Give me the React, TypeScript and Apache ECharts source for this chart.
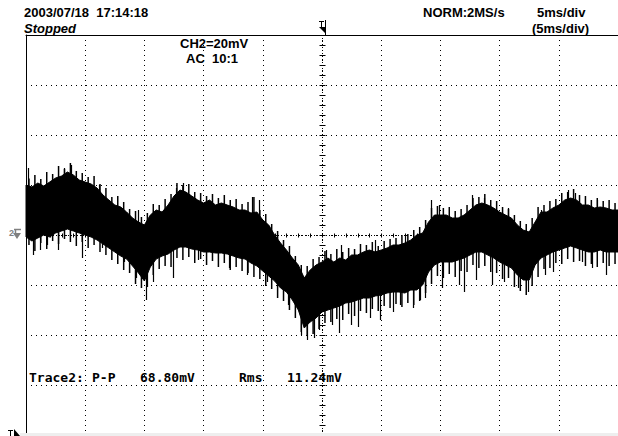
import React, { useEffect, useRef } from "react";
import * as echarts from "echarts";

// Time base (ms, trigger at 0) of the envelope samples
const ENV_TIME = [
  -25, -24.5, -24, -23.5, -23, -22.5, -22, -21.5, -21, -20.5,
  -20, -19.5, -19, -18.5, -18, -17.5, -17, -16.5, -16, -15.5,
  -15, -14.5, -14, -13.5, -13, -12.5, -12, -11.5, -11, -10.5,
  -10, -9.5, -9, -8.5, -8, -7.5, -7, -6.5, -6, -5.5,
  -5, -4.5, -4, -3.5, -3, -2.5, -2, -1.5, -1, -0.5,
  0, 0.5, 1, 1.5, 2, 2.5, 3, 3.5, 4, 4.5,
  5, 5.5, 6, 6.5, 7, 7.5, 8, 8.5, 9, 9.5,
  10, 10.5, 11, 11.5, 12, 12.5, 13, 13.5, 14, 14.5,
  15, 15.5, 16, 16.5, 17, 17.5, 18, 18.5, 19, 19.5,
  20, 20.5, 21, 21.5, 22, 22.5, 23, 23.5, 24, 24.5, 25,
];

// Upper edge of the dense noise band (mV)
const ENV_UPPER = [
  20.0, 19.2, 20.8, 19.6, 21.2, 22.8, 23.6, 25.2, 24.0, 22.0,
  21.2, 20.4, 18.8, 16.0, 14.0, 12.0, 11.2, 9.2, 6.8, 5.2,
  4.0, 8.0, 10.0, 9.2, 12.0, 15.6, 18.0, 17.2, 15.6, 14.0,
  12.8, 14.0, 12.0, 12.8, 12.0, 11.2, 10.0, 10.0, 8.8, 9.2,
  6.0, 4.0, 0.0, -3.2, -6.0, -9.2, -12.0, -17.2, -14.0, -12.0,
  -10.8, -9.2, -10.8, -9.2, -10.0, -8.0, -8.0, -6.8, -6.0, -6.8,
  -6.0, -5.2, -4.0, -4.0, -3.2, -2.0, 0.0, 0.8, 5.2, 8.0,
  8.0, 8.0, 6.8, 6.8, 8.0, 10.0, 12.0, 12.8, 12.0, 10.8,
  9.2, 8.0, 6.8, 4.0, 2.0, 1.2, 5.2, 9.2, 9.2, 10.8,
  12.0, 14.0, 14.8, 14.0, 12.0, 12.0, 10.8, 11.2, 10.8, 10.0, 10.0,
];

// Lower edge of the dense noise band (mV)
const ENV_LOWER = [
  -0.8, -2.4, -1.2, 0.0, -0.8, 0.8, 1.6, 2.4, 1.6, 0.8,
  0.0, -0.8, -2.0, -3.6, -5.2, -6.8, -8.4, -9.6, -12.4, -15.2,
  -18.4, -12.8, -9.6, -8.4, -7.6, -6.0, -4.8, -4.8, -5.6, -6.0,
  -6.8, -6.8, -7.2, -7.2, -7.6, -8.4, -9.2, -9.6, -11.2, -12.4,
  -14.4, -16.4, -18.4, -21.2, -22.8, -26.0, -30.0, -37.2, -34.8, -33.2,
  -30.8, -30.0, -29.2, -28.4, -27.2, -26.8, -26.0, -25.2, -25.2, -24.4,
  -24.0, -23.2, -22.8, -22.8, -23.2, -22.0, -22.0, -20.0, -14.8, -12.0,
  -10.8, -10.8, -10.8, -10.0, -9.2, -8.0, -6.8, -6.8, -8.0, -9.2,
  -10.8, -12.0, -13.2, -16.0, -18.0, -18.0, -12.0, -9.2, -8.0, -6.8,
  -6.0, -5.2, -4.4, -5.2, -6.0, -6.8, -6.8, -6.0, -6.8, -6.8, -6.8,
];

// Fine noise "hairs" between envelope samples: time, top tip, bottom tip (mV)
const HAIR_TIME = [
  -24.75, -24.25, -23.75, -23.25, -22.75, -22.25, -21.75, -21.25, -20.75, -20.25,
  -19.75, -19.25, -18.75, -18.25, -17.75, -17.25, -16.75, -16.25, -15.75, -15.25,
  -14.75, -14.25, -13.75, -13.25, -12.75, -12.25, -11.75, -11.25, -10.75, -10.25,
  -9.75, -9.25, -8.75, -8.25, -7.75, -7.25, -6.75, -6.25, -5.75, -5.25,
  -4.75, -4.25, -3.75, -3.25, -2.75, -2.25, -1.75, -1.25, -0.75, -0.25,
  0.25, 0.75, 1.25, 1.75, 2.25, 2.75, 3.25, 3.75, 4.25, 4.75,
  5.25, 5.75, 6.25, 6.75, 7.25, 7.75, 8.25, 8.75, 9.25, 9.75,
  10.25, 10.75, 11.25, 11.75, 12.25, 12.75, 13.25, 13.75, 14.25, 14.75,
  15.25, 15.75, 16.25, 16.75, 17.25, 17.75, 18.25, 18.75, 19.25, 19.75,
  20.25, 20.75, 21.25, 21.75, 22.25, 22.75, 23.25, 23.75, 24.25, 24.75,
];
const HAIR_TOP = [
  22.6, 24.0, 22.4, 25.2, 24.4, 27.6, 26.4, 28.8, 25.6, 24.8,
  23.2, 23.6, 20.4, 18.8, 15.2, 15.6, 13.2, 10.4, 9.6, 7.2,
  8.8, 12.4, 12.0, 14.4, 16.4, 20.8, 20.0, 20.4, 17.2, 16.8,
  15.6, 16.4, 14.8, 16.0, 14.0, 14.4, 12.4, 13.2, 15.2, 10.0,
  8.4, 4.4, 1.6, -2.0, -4.4, -8.4, -12.0, -12.4, -9.6, -8.8,
  -6.4, -7.6, -5.6, -6.8, -5.2, -5.6, -3.6, -4.0, -2.8, -4.4,
  -2.4, -1.6, -1.2, 0.0, 0.4, 2.0, 3.2, 6.0, 10.8, 11.6,
  10.8, 11.2, 9.6, 10.4, 12.0, 14.8, 15.2, 16.4, 14.0, 13.6,
  11.2, 10.4, 8.0, 5.6, 4.4, 6.8, 11.2, 12.0, 13.6, 14.4,
  16.8, 17.2, 18.4, 16.0, 15.6, 14.0, 14.8, 13.6, 14.0, 12.8,
];
const HAIR_BOTTOM = [
  -4.0, -6.4, -3.2, -5.6, -2.4, -3.6, -1.6, -2.8, -4.4, -2.8,
  -5.2, -4.0, -6.8, -8.0, -10.0, -11.6, -14.0, -15.2, -19.6, -21.2,
  -20.8, -16.0, -13.6, -12.4, -12.8, -9.2, -10.0, -8.8, -11.2, -9.6,
  -12.0, -10.4, -12.8, -11.2, -14.0, -12.8, -14.4, -15.2, -16.8, -17.6,
  -20.4, -21.6, -25.2, -26.4, -30.0, -33.2, -38.8, -40.4, -39.6, -37.6,
  -35.2, -34.8, -33.6, -34.0, -31.6, -32.4, -30.4, -31.2, -29.6, -30.4,
  -28.4, -29.2, -27.6, -28.8, -27.2, -28.0, -26.4, -23.2, -19.6, -16.4,
  -17.2, -15.6, -16.8, -14.4, -14.8, -12.0, -13.2, -12.4, -14.8, -15.2,
  -17.6, -17.2, -20.8, -22.4, -24.0, -20.4, -16.8, -13.6, -13.2, -11.2,
  -11.6, -9.6, -10.8, -10.4, -12.4, -11.6, -12.8, -11.2, -12.4, -11.6,
];

// Isolated noise spikes: [ms, tip mV]
const SPIKES = [
  [-24.42, -8.0], [-23.83, -6.0], [-23.25, -4.0], [-22.33, -6.0], [-20.25, -9.2],
  [-18.58, -5.2], [-16.75, -10.8], [-15.67, -17.2], [-14.83, -26.0], [-14.25, -18.8],
  [-12.58, -17.2], [-10.5, -10.0], [-7.83, -13.2], [-6.33, -16.0], [-4.67, -18.8],
  [-2.83, -28.0], [-1.75, -40.0], [-1.25, -42.0], [-0.67, -41.2], [-0.25, -38.0],
  [0.83, -36.0], [1.42, -39.2], [2.42, -36.0], [3.0, -36.8], [4.08, -33.2],
  [4.92, -34.0], [6.0, -30.8], [6.58, -28.0], [7.67, -29.2], [8.25, -26.0],
  [8.67, -25.2], [10.17, -21.2], [11.58, -20.0], [12.0, -22.8], [13.0, -18.0],
  [14.33, -20.0], [15.33, -18.8], [16.58, -21.2], [17.42, -22.8], [18.83, -16.0],
  [19.5, -14.8], [22.0, -10.8], [22.83, -13.2], [24.0, -16.0],
  [-24.83, 26.8], [-21.75, 26.8], [-21.17, 28.0], [-18.83, 20.0], [-15.5, 10.0],
  [-12.33, 18.8], [-11.75, 20.8], [-5.92, 15.2], [-5.33, 14.0], [0.33, -6.0],
  [1.58, -4.0], [4.5, -2.0], [7.0, 0.0], [9.17, 14.0], [9.92, 12.0],
  [12.67, 16.0], [13.67, 14.8], [15.75, 10.8], [18.5, 10.0], [20.75, 18.0],
  [21.33, 16.8], [23.25, 14.0],
];

const X_MIN = -25;
const X_MAX = 25;
const X_DIV = 5;
const Y_MIN = -80;
const Y_MAX = 80;
const Y_DIV = 20;

function interp(xs: number[], ys: number[], x: number) {
  if (x <= xs[0]) return ys[0];
  for (let i = 1; i < xs.length; i++) {
    if (x <= xs[i]) {
      const t = (x - xs[i - 1]) / (xs[i] - xs[i - 1]);
      return ys[i - 1] + t * (ys[i] - ys[i - 1]);
    }
  }
  return ys[ys.length - 1];
}

const HEAD_FONT = 'bold 13px "Liberation Sans", Arial, sans-serif';
const MONO_FONT = 'bold 13px "DejaVu Sans Mono", monospace';

export default function App() {
  const ref = useRef<HTMLDivElement>(null);
  useEffect(() => {
    document.body.style.margin = "0";
    const chart = echarts.init(ref.current!, undefined, { renderer: "svg" });
    const txt = (text: string, x: number, y: number, font = HEAD_FONT) => ({
      type: "text",
      x,
      y,
      z: 100,
      style: { text, font, fill: "#000", textVerticalAlign: "middle", textAlign: "left" },
    });
    const hairData = HAIR_TIME.map((t, i) => [t, HAIR_TOP[i], HAIR_BOTTOM[i]]);
    const option: any = {
      animation: false,
      backgroundColor: "#fff",
      grid: { left: 26, top: 35, width: 600, height: 400 },
      xAxis: {
        type: "value",
        min: X_MIN,
        max: X_MAX,
        interval: X_DIV,
        position: "top",
        axisLine: { show: true, onZero: false, lineStyle: { color: "#000", width: 1 } },
        axisTick: { show: false },
        axisLabel: { show: false },
        splitLine: {
          show: true,
          showMinLine: false,
          showMaxLine: false,
          lineStyle: { color: "#000", width: 1, type: [1, 4] },
        },
      },
      yAxis: {
        type: "value",
        min: Y_MIN,
        max: Y_MAX,
        interval: Y_DIV,
        axisLine: { show: true, onZero: false, lineStyle: { color: "#000", width: 1 } },
        axisTick: { show: false },
        axisLabel: { show: false },
        splitLine: {
          show: true,
          showMinLine: false,
          showMaxLine: false,
          lineStyle: { color: "#000", width: 1, type: [1, 4] },
        },
      },
      series: [
        {
          type: "custom",
          z: 1,
          silent: true,
          data: [[0, 0]],
          renderItem: (_p: any, api: any) => {
            const children: any[] = [];
            const c0 = api.coord([0, 0]);
            const cx = Math.round(c0[0]) + 0.5;
            const cy = Math.round(c0[1]) + 0.5;
            const top = api.coord([0, Y_MAX])[1];
            const bot = api.coord([0, Y_MIN])[1];
            const lft = api.coord([X_MIN, 0])[0];
            const rgt = api.coord([X_MAX, 0])[0];
            children.push({
              type: "line",
              shape: { x1: cx, y1: top, x2: cx, y2: bot },
              style: { stroke: "#000", lineWidth: 1, lineDash: [1, 2] },
            });
            children.push({
              type: "line",
              shape: { x1: lft, y1: cy, x2: rgt, y2: cy },
              style: { stroke: "#000", lineWidth: 1, lineDash: [1, 2] },
            });
            for (let v = Y_MIN + 4; v < Y_MAX; v += 4) {
              const y = Math.round(api.coord([0, v])[1]) + 0.5;
              children.push({
                type: "line",
                shape: { x1: cx - 3, y1: y, x2: cx + 3, y2: y },
                style: { stroke: "#000", lineWidth: 1 },
              });
            }
            for (let t = X_MIN + 1; t < X_MAX; t += 1) {
              const x = Math.round(api.coord([t, 0])[0]) + 0.5;
              children.push({
                type: "line",
                shape: { x1: x, y1: cy - 2, x2: x, y2: cy + 2 },
                style: { stroke: "#000", lineWidth: 1 },
              });
            }
            return { type: "group", children };
          },
        },
        {
          type: "custom",
          z: 5,
          silent: true,
          data: [[0, 0]],
          renderItem: (_p: any, api: any) => {
            const pts: number[][] = [];
            for (let i = 0; i < ENV_TIME.length; i++) pts.push(api.coord([ENV_TIME[i], ENV_UPPER[i]]));
            for (let i = ENV_TIME.length - 1; i >= 0; i--) pts.push(api.coord([ENV_TIME[i], ENV_LOWER[i]]));
            return {
              type: "polygon",
              shape: { points: pts },
              style: { fill: "#000", stroke: "#000", lineWidth: 1 },
            };
          },
        },
        {
          type: "custom",
          z: 6,
          silent: true,
          data: hairData,
          renderItem: (_p: any, api: any) => {
            const t = api.value(0);
            const a = api.coord([t, api.value(1)]);
            const b = api.coord([t, api.value(2)]);
            return {
              type: "line",
              shape: { x1: a[0], y1: a[1], x2: b[0], y2: b[1] },
              style: { stroke: "#000", lineWidth: 1.5 },
            };
          },
        },
        {
          type: "custom",
          z: 6,
          silent: true,
          data: SPIKES,
          renderItem: (_p: any, api: any) => {
            const t = api.value(0);
            const v = api.value(1);
            const mid = (interp(ENV_TIME, ENV_UPPER, t) + interp(ENV_TIME, ENV_LOWER, t)) / 2;
            const a = api.coord([t, v]);
            const b = api.coord([t, mid]);
            const x = Math.round(a[0]) + 0.5;
            return {
              type: "line",
              shape: { x1: x, y1: a[1], x2: x, y2: b[1] },
              style: { stroke: "#000", lineWidth: 1.2 },
            };
          },
        },
      ],
      graphic: [
        txt("2003/07/18  17:14:18", 24, 12),
        {
          type: "text",
          x: 24,
          y: 28,
          z: 100,
          style: {
            text: "Stopped",
            font: 'italic bold 13px "Liberation Sans", Arial, sans-serif',
            fill: "#000",
            textVerticalAlign: "middle",
          },
        },
        txt("NORM:2MS/s", 423, 12),
        txt("5ms/div", 537, 12),
        txt("(5ms/div)", 532, 28),
        txt("CH2=20mV", 180, 43),
        txt("AC  10:1", 186, 58),
        txt("Trace2:", 29, 377, MONO_FONT),
        txt("P-P", 92, 377, MONO_FONT),
        txt("68.80mV", 140, 377, MONO_FONT),
        txt("Rms", 239, 377, MONO_FONT),
        txt("11.24mV", 287, 377, MONO_FONT),
        // trigger position marker (top)
        { type: "line", z: 100, shape: { x1: 319, y1: 21.5, x2: 324, y2: 21.5 }, style: { stroke: "#000", lineWidth: 1 } },
        { type: "line", z: 100, shape: { x1: 321.5, y1: 21, x2: 321.5, y2: 27 }, style: { stroke: "#000", lineWidth: 1 } },
        { type: "line", z: 100, shape: { x1: 325.5, y1: 20, x2: 325.5, y2: 35 }, style: { stroke: "#000", lineWidth: 1 } },
        { type: "polygon", z: 100, shape: { points: [[319, 27], [326, 27], [326, 34]] }, style: { fill: "#000" } },
        // channel 2 ground marker
        {
          type: "text",
          x: 9,
          y: 233,
          z: 100,
          style: { text: "2", font: 'bold 9px "Liberation Sans", Arial', fill: "#808080", textVerticalAlign: "middle" },
        },
        { type: "line", z: 100, shape: { x1: 14, y1: 229.5, x2: 21, y2: 229.5 }, style: { stroke: "#808080", lineWidth: 1.5 } },
        { type: "line", z: 100, shape: { x1: 15.5, y1: 229, x2: 15.5, y2: 235 }, style: { stroke: "#808080", lineWidth: 1.5 } },
        { type: "polygon", z: 100, shape: { points: [[13, 233], [21, 233], [17, 239]] }, style: { fill: "#808080" } },
        // trigger level marker (bottom left)
        { type: "line", z: 100, shape: { x1: 8, y1: 430.5, x2: 13, y2: 430.5 }, style: { stroke: "#000", lineWidth: 1 } },
        { type: "line", z: 100, shape: { x1: 10.5, y1: 430, x2: 10.5, y2: 436 }, style: { stroke: "#000", lineWidth: 1 } },
        { type: "polygon", z: 100, shape: { points: [[14, 429], [20, 436], [14, 436]] }, style: { fill: "#000" } },
        // bottom light border
        { type: "rect", z: 90, shape: { x: 20, y: 433, width: 598, height: 3 }, style: { fill: "#eeeeee" } },
      ],
    };
    chart.setOption(option);
    return () => chart.dispose();
  }, []);
  return (
    <div
      ref={ref}
      style={{ position: "absolute", left: 0, top: 0, width: 618, height: 436 }}
    />
  );
}
